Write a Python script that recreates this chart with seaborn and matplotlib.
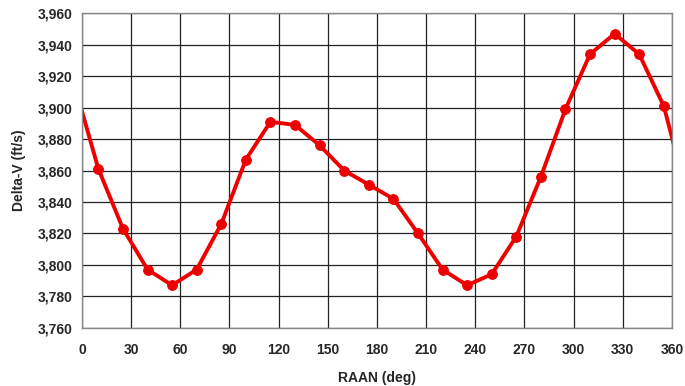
import numpy as np
import pandas as pd
import matplotlib
matplotlib.use("Agg")
import matplotlib.pyplot as plt
from matplotlib.ticker import FuncFormatter, MultipleLocator
import seaborn as sns

# RAAN sweep (deg) and delta-V (ft/s); the end points lie just outside the axis range
raan_deg = [-5, 10, 25, 40, 55, 70, 85, 100, 115, 130, 145, 160, 175, 190,
            205, 220, 235, 250, 265, 280, 295, 310, 325, 340, 355, 370]
delta_v = [3916, 3861, 3823, 3797, 3787, 3797, 3826, 3867, 3891, 3889, 3876,
           3860, 3851, 3842, 3820, 3797, 3787, 3794, 3818, 3856, 3899, 3934,
           3947, 3934, 3901, 3841]

df = pd.DataFrame({"RAAN (deg)": raan_deg, "Delta-V (ft/s)": delta_v})

sns.set_style("white")
plt.rcParams["font.family"] = ["Liberation Sans", "DejaVu Sans"]

fig = plt.figure(figsize=(6.85, 3.86), dpi=100)
ax = fig.add_axes([0.1197, 0.151, 0.8613, 0.8145])

sns.lineplot(data=df, x="RAAN (deg)", y="Delta-V (ft/s)", ax=ax,
             color="#ee0000", linewidth=2.8, marker="o", markersize=7,
             markeredgecolor="#ee0000", sort=False)

ax.set_xlim(0, 360)
ax.set_ylim(3760, 3960)
ax.xaxis.set_major_locator(MultipleLocator(30))
ax.yaxis.set_major_locator(MultipleLocator(20))
ax.yaxis.set_major_formatter(FuncFormatter(lambda v, p: f"{v:,.0f}"))

ax.grid(True, color="#222222", linewidth=0.9)
ax.set_axisbelow(True)
for s in ax.spines.values():
    s.set_color("#888888")
    s.set_linewidth(1.0)

ax.tick_params(axis="both", direction="out", length=4, width=1,
               color="#888888", labelsize=10, pad=3)
ax.tick_params(axis="x", pad=7)
for lab in ax.get_xticklabels() + ax.get_yticklabels():
    lab.set_fontweight("bold")

ax.set_xlabel("RAAN (deg)", fontsize=10, fontweight="bold", labelpad=10)
ax.set_ylabel("Delta-V (ft/s)", fontsize=10, fontweight="bold", labelpad=8)

fig.savefig("out.png", dpi=100)
